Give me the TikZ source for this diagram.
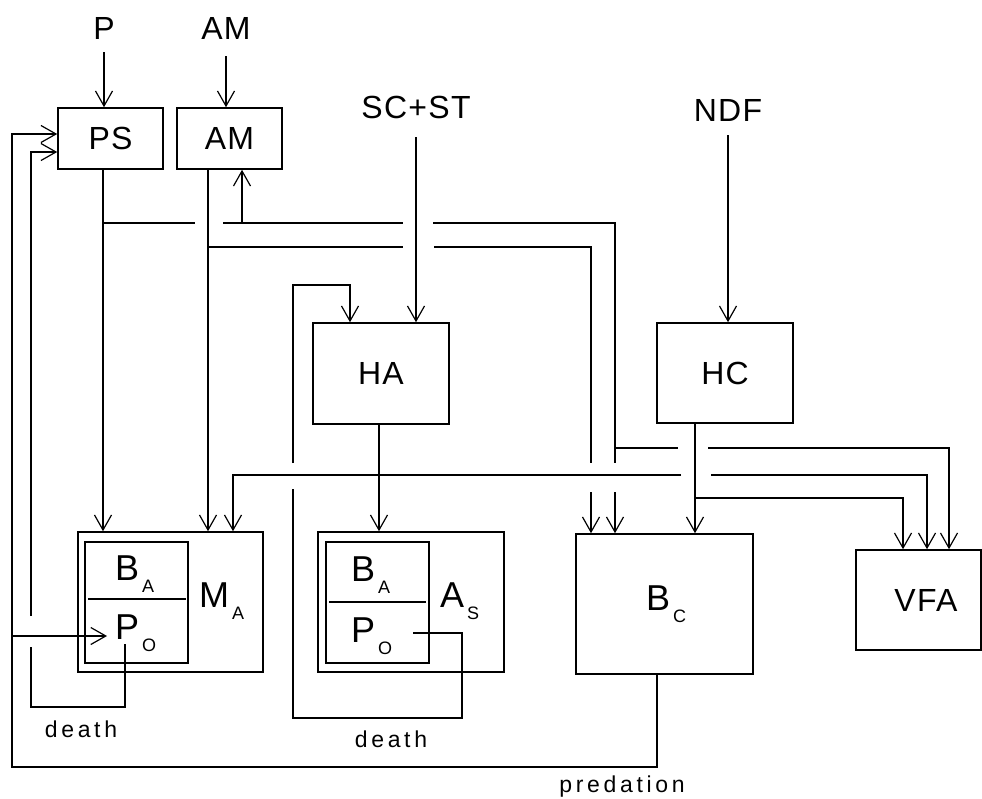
\documentclass[tikz,border=0pt]{standalone}
\usepackage{fontspec}
\setmainfont{Liberation Sans}
\newfontfamily\labfont[LetterSpace=4]{Liberation Sans}
\newfontfamily\smallfont[LetterSpace=16]{Liberation Sans}
\usetikzlibrary{arrows.meta}
\newcommand{\withsub}[2]{#1\hspace{3pt}\raisebox{-12pt}{\fontsize{18}{18}\selectfont #2}}
\begin{document}
\begin{tikzpicture}[x=1pt,y=-1pt,
  ln/.style={line width=1.2pt},
  arr/.style={line width=1.2pt,-{Straight Barb[length=15pt,width=17pt,line width=1.2pt]}},
  box/.style={draw,line width=1.6pt,inner sep=0pt,rectangle},
  lab/.style={font=\labfont\fontsize{32}{32}\selectfont,inner sep=0pt},
  big/.style={font=\fontsize{36}{36}\selectfont,inner sep=0pt,anchor=base west},
  small/.style={font=\smallfont\fontsize{23}{23}\selectfont,inner sep=0pt,anchor=base}]
\useasboundingbox (0,0) rectangle (982,798);

% input labels
\node[lab] (Plab) at (104,28) {P};
\node[lab] (AMlab) at (226,28) {AM};
\node[lab] (SClab) at (416,107) {SC+ST};
\node[lab] (NDFlab) at (728,110) {NDF};

% boxes
\node[box,lab,minimum width=105pt,minimum height=61pt] (PS) at (110.5,138.5) {PS};
\node[box,lab,minimum width=105pt,minimum height=61pt] (AMb) at (229.5,138.5) {AM};
\node[box,lab,minimum width=136pt,minimum height=101pt] (HA) at (381,373.5) {HA};
\node[box,lab,minimum width=136pt,minimum height=100pt] (HC) at (725,373) {HC};
\node[box,minimum width=185pt,minimum height=140pt] (MA) at (170.5,602) {};
\node[box,minimum width=103pt,minimum height=121pt] (MAi) at (136.5,602.5) {};
\node[box,minimum width=186pt,minimum height=140pt] (AS) at (411,602) {};
\node[box,minimum width=103pt,minimum height=121pt] (ASi) at (377.5,602.5) {};
\node[box,minimum width=177pt,minimum height=140pt] (BC) at (664.5,604) {};
\node[box,minimum width=125pt,minimum height=100pt] (VFA) at (918.5,600) {};
\node[lab] (VFAt) at (926,600) {VFA};

% dividers
\draw[ln] (88,599) -- (186,599);
\draw[ln] (329,602) -- (426,602);

% inner texts
\node[big] (BA1) at (115,580) {\withsub{B}{A}};
\node[big] (PO1) at (115,639) {\withsub{P}{O}};
\node[big] (MAt) at (199,607) {\withsub{M}{A}};
\node[big] (BA2) at (351,581) {\withsub{B}{A}};
\node[big] (PO2) at (351,642) {\withsub{P}{O}};
\node[big] (ASt) at (440,607) {\withsub{A}{S}};
\node[big] (BCt) at (646,610) {\withsub{B}{C}};

% named points
\coordinate (pIn) at (104,52);
\coordinate (amIn) at (226,56);
\coordinate (scIn) at (416,137);
\coordinate (ndfIn) at (728,135);
\coordinate (psJ) at (103,223);
\coordinate (psA) at (195,223);
\coordinate (psB) at (223,223);
\coordinate (psC) at (403,223);
\coordinate (psD) at (433,223);
\coordinate (psE) at (615,223);
\coordinate (psF) at (615,463);
\coordinate (psG) at (615,492);
\coordinate (psK) at (615,448);
\coordinate (psL) at (678,448);
\coordinate (psM) at (708,448);
\coordinate (psN) at (949,448);
\coordinate (amUp) at (242,223);
\coordinate (amJ) at (208,247);
\coordinate (amA) at (403,247);
\coordinate (amB) at (434,247);
\coordinate (amC) at (591,247);
\coordinate (amD) at (591,463);
\coordinate (amE) at (591,492);
\coordinate (hcJ) at (695,498);
\coordinate (hcK) at (903,498);
\coordinate (haL) at (233,475);
\coordinate (haA) at (681,475);
\coordinate (haB) at (711,475);
\coordinate (haC) at (927,475);
\coordinate (poS) at (413,633);
\coordinate (asA) at (462,633);
\coordinate (asB) at (462,718);
\coordinate (asC) at (293,718);
\coordinate (asD) at (293,489);
\coordinate (asE) at (293,463);
\coordinate (asF) at (293,285);
\coordinate (asG) at (350,285);
\coordinate (maS) at (125,644);
\coordinate (maA) at (125,707);
\coordinate (maB) at (31,707);
\coordinate (maC) at (31,647);
\coordinate (maD) at (31,616);
\coordinate (maE) at (31,152);
\coordinate (prA) at (657,767);
\coordinate (prB) at (12,767);
\coordinate (prC) at (12,134);
\coordinate (prJ) at (12,636);
\coordinate (prT) at (107,636);

% inputs
\draw[arr] (pIn) -- (pIn |- PS.north);
\draw[arr] (amIn) -- (amIn |- AMb.north);
\draw[arr] (scIn) -- (scIn |- HA.north);
\draw[arr] (ndfIn) -- (ndfIn |- HC.north);

% PS and AM down to MA
\draw[arr] (psJ |- PS.south) -- (psJ |- MA.north);
\draw[arr] (amJ |- AMb.south) -- (amJ |- MA.north);

% PS branch
\draw[ln] (psJ) -- (psA);
\draw[ln] (psB) -- (psC);
\draw[ln] (psD) -- (psE) -- (psF);
\draw[arr] (psG) -- (psG |- BC.north);
\draw[arr] (amUp) -- (amUp |- AMb.south);
\draw[ln] (psK) -- (psL);
\draw[arr] (psM) -- (psN) -- (psN |- VFA.north);

% AM branch
\draw[ln] (amJ) -- (amA);
\draw[ln] (amB) -- (amC) -- (amD);
\draw[arr] (amE) -- (amE |- BC.north);

% HC
\draw[arr] (hcJ |- HC.south) -- (hcJ |- BC.north);
\draw[arr] (hcJ) -- (hcK) -- (hcK |- VFA.north);

% HA
\draw[arr] (HA.south -| 379,0) -- (AS.north -| 379,0);
\draw[arr] (haA) -- (haL) -- (haL |- MA.north);
\draw[arr] (haB) -- (haC) -- (haC |- VFA.north);

% As death
\draw[ln] (poS) -- (asA) -- (asB) -- (asC) -- (asD);
\draw[arr] (asE) -- (asF) -- (asG) -- (asG |- HA.north);

% MA death
\draw[ln] (maS) -- (maA) -- (maB) -- (maC);
\draw[arr] (maD) -- (maE) -- (maE -| PS.west);

% predation
\draw[arr] (prA |- BC.south) -- (prA) -- (prB) -- (prC) -- (prC -| PS.west);
\draw[arr] (prJ) -- (prT);

% labels
\node[small] (d1) at (81,737) {death};
\node[small] (d2) at (391,747) {death};
\node[small] (pred) at (622,792) {predation};
\end{tikzpicture}
\end{document}
